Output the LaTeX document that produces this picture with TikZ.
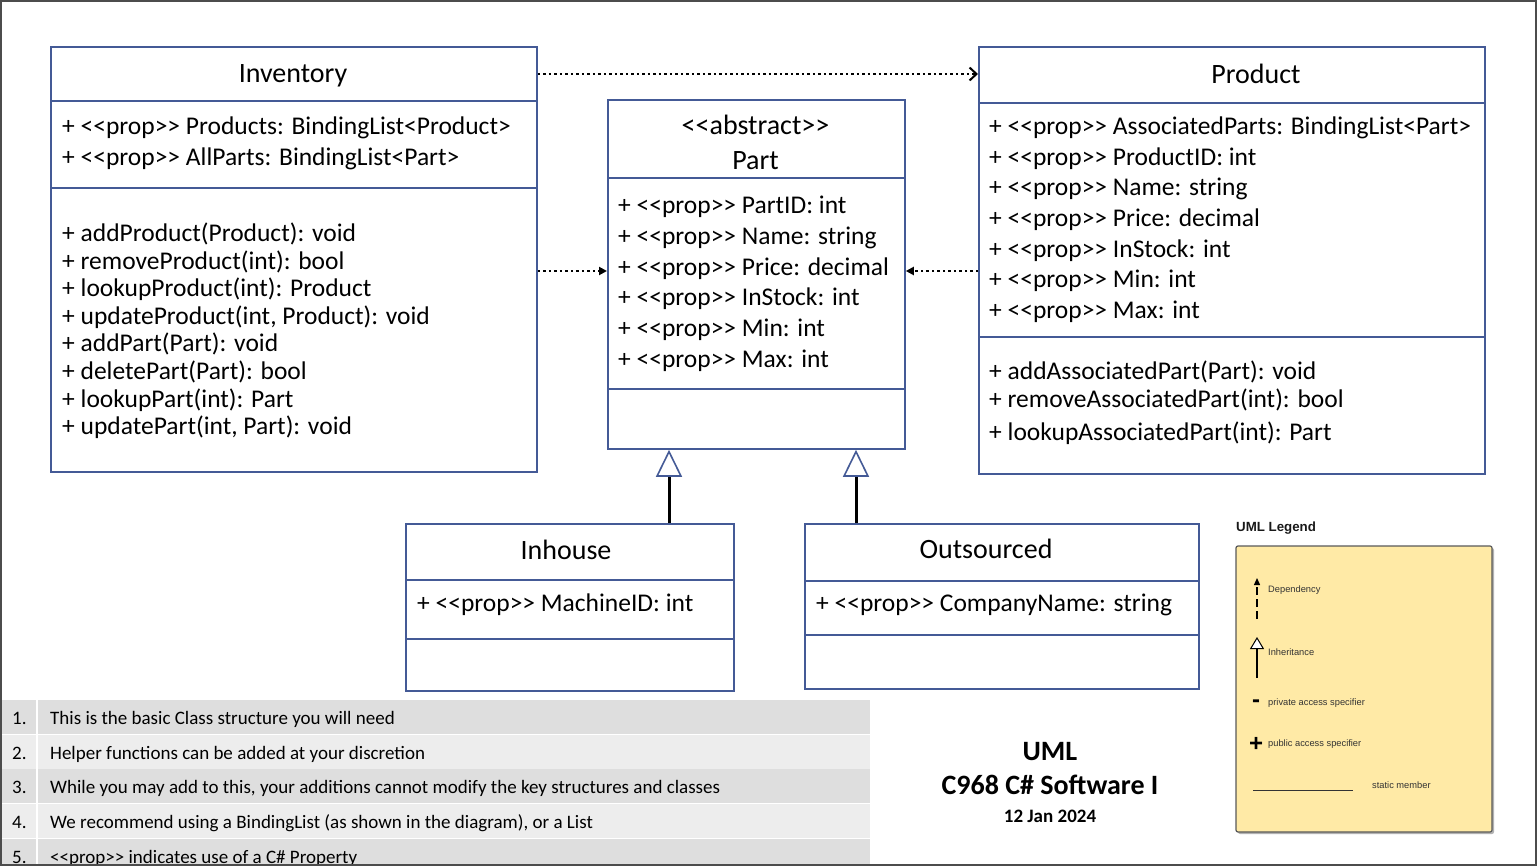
\documentclass[tikz,border=0pt]{standalone}
\usepackage{fontspec}
\setmainfont{Carlito}
\newfontfamily\legendfont{Liberation Sans}
\usetikzlibrary{arrows.meta}
\definecolor{clsblue}{RGB}{68,90,150}
\definecolor{legyellow}{RGB}{255,234,166}
\definecolor{rowdark}{RGB}{222,222,222}
\definecolor{rowlight}{RGB}{237,237,237}
\newcommand\ster[1]{<\kern0pt<#1>\kern0pt>}
\begin{document}
\begin{tikzpicture}[
    x={(1pt,0pt)},
    y={(0pt,-1pt)},
    >=Stealth,
    cls/.style={draw=clsblue, line width=1.8pt},
    clsbox/.style={cls, inner sep=0pt, anchor=north west},
    ttl/.style={font=\fontsize{28}{35}\selectfont, align=center, inner sep=0pt},
    mem/.style={font=\fontsize{25.5}{30}\selectfont, anchor=west, inner sep=0pt, text height=0.7em, text depth=0.2em, yshift=-6pt},
    dep/.style={line width=2.2pt, dash pattern=on 2.5pt off 3pt},
    inherit/.style={line width=3pt, -{Triangle[open, length=27pt, width=26pt, line width=1.6pt, color=clsblue, fill=white]}},
    note/.style={font=\fontsize{19}{22}\selectfont, anchor=west, inner sep=0pt, text height=0.7em, text depth=0.2em, yshift=-5pt},
    legtxt/.style={font=\legendfont\fontsize{9.3}{11}\selectfont, text=black!80, anchor=west, inner sep=0pt}]
    \useasboundingbox (0,0) rectangle (1537,866);

    % Notes table (bottom left)
    \foreach \c [count=\i] in {rowdark,rowlight,rowdark,rowlight,rowdark} {
        \fill[\c] (2,{700+34.7*(\i-1)}) rectangle (36,{734+34.7*(\i-1)});
        \fill[\c] (38,{700+34.7*(\i-1)}) rectangle (870,{734+34.7*(\i-1)});
        \node[note] (num\i) at (12,{717+34.7*(\i-1)}) {\i.};
    }
    \foreach \t [count=\i] in {This is the basic Class structure you will need,
        Helper functions can be added at your discretion,
        {While you may add to this, your additions cannot modify the key structures and classes},
        {We recommend using a BindingList (as shown in the diagram), or a List},
        \ster{prop} indicates use of a C\# Property}
        \node[note] (note\i) at (50,{717+34.7*(\i-1)}) {\t};

    % Inventory class
    \node[clsbox, minimum width=486pt, minimum height=425pt] (inv) at (50,46) {};
    \draw[cls] (50,101) -- (536,101);
    \draw[cls] (50,188) -- (536,188);
    \node[ttl] (invT) at (293,75.5) {Inventory};
    \node[mem] (invA1) at (62,126) {+ \ster{prop} Products: BindingList<Product>};
    \node[mem] (invA2) at (62,157) {+ \ster{prop} AllParts: BindingList<Part>};
    \foreach \m [count=\i] in {addProduct(Product): void, removeProduct(int): bool,
        lookupProduct(int): Product, {updateProduct(int, Product): void},
        addPart(Part): void, deletePart(Part): bool, lookupPart(int): Part,
        {updatePart(int, Part): void}}
        \node[mem] (invM\i) at (62,{233+27.6*(\i-1)}) {+ \m};

    % Part class (abstract)
    \node[clsbox, minimum width=297pt, minimum height=349pt] (part) at (607,99) {};
    \draw[cls] (607,178) -- (904,178);
    \draw[cls] (607,389) -- (904,389);
    \node[ttl] (partT) at (755.5,142.5) {\ster{abstract}\\Part};
    \foreach \a [count=\i] in {PartID: int, Name: string, Price: decimal,
        InStock: int, Min: int, Max: int}
        \node[mem] (partA\i) at (618,{205+30.8*(\i-1)}) {+ \ster{prop} \a};

    % Product class
    \node[clsbox, minimum width=506pt, minimum height=427pt] (prod) at (978,46) {};
    \draw[cls] (978,103) -- (1484,103);
    \draw[cls] (978,337) -- (1484,337);
    \node[ttl] (prodT) at (1256,74) {Product};
    \foreach \a [count=\i] in {AssociatedParts: BindingList<Part>, ProductID: int,
        Name: string, Price: decimal, InStock: int, Min: int, Max: int}
        \node[mem] (prodA\i) at (989,{126+30.7*(\i-1)}) {+ \ster{prop} \a};
    \foreach \m/\yy [count=\i] in {{addAssociatedPart(Part): void}/371,
        {removeAssociatedPart(int): bool}/399, {lookupAssociatedPart(int): Part}/432}
        \node[mem] (prodM\i) at (989,\yy) {+ \m};

    % Inhouse and Outsourced classes
    \node[clsbox, minimum width=328pt, minimum height=167pt] (inh) at (405,523) {};
    \draw[cls] (405,580) -- (733,580);
    \draw[cls] (405,639) -- (733,639);
    \node[ttl] (inhT) at (566,550) {Inhouse};
    \node[mem] (inhA1) at (417,603) {+ \ster{prop} MachineID: int};

    \node[clsbox, minimum width=394pt, minimum height=165pt] (outs) at (804,523) {};
    \draw[cls] (804,581) -- (1198,581);
    \draw[cls] (804,635) -- (1198,635);
    \node[ttl] (outT) at (986,549) {Outsourced};
    \node[mem] (outA1) at (816,603) {+ \ster{prop} CompanyName: string};

    % Dependencies (dotted)
    \coordinate (depRow) at (0,271);
    \draw[dep, -{Straight Barb[length=7pt, width=13pt, line width=2pt]}] (prodT -| inv.east) -- (prodT -| prod.west);
    \draw[dep, -{Triangle[length=8pt, width=8pt]}] (depRow -| inv.east) -- (depRow -| part.west);
    \draw[dep, -{Triangle[length=8pt, width=8pt]}] (depRow -| prod.west) -- (depRow -| part.east);

    % Inheritance
    \coordinate (inhUp) at (669,523);
    \coordinate (outUp) at (856,523);
    \draw[inherit] (inhUp) -- (inhUp |- part.south);
    \draw[inherit] (outUp) -- (outUp |- part.south);

    % Title
    \node[font=\bfseries\fontsize{28}{34}\selectfont, align=center] (title) at (1050,769) {UML\\C968 C\# Software I};
    \node[font=\bfseries\fontsize{19}{22}\selectfont] (date) at (1050,816) {12 Jan 2024};

    % Legend
    \node[legtxt, font=\legendfont\bfseries\fontsize{13.3}{16}\selectfont, text=black!90] (legT) at (1236,528) {UML Legend};
    \fill[black!30, rounded corners=2pt] (1238,548) rectangle (1494,834);
    \draw[black!65, fill=legyellow, rounded corners=2pt, line width=1.2pt] (1236,546) rectangle (1492,832);
    \coordinate (depLo) at (1257,619);
    \coordinate (depHi) at (1257,578);
    \draw[line width=1.2pt, dash pattern=on 8pt off 4pt, -{Triangle[length=7pt, width=6pt]}] (depLo) -- (depHi);
    \coordinate (inhLo) at (1257,678);
    \coordinate (inhHi) at (1257,637);
    \draw[line width=1.2pt, -{Triangle[open, length=12pt, width=14pt, fill=white, line width=1pt]}] (inhLo) -- (inhHi);
    \node[font=\legendfont\bfseries\fontsize{24}{24}\selectfont, inner sep=0pt] (legMinus) at (1256,704) {-};
    \node[font=\legendfont\bfseries\fontsize{24}{24}\selectfont, inner sep=0pt] (legPlus) at (1256,744) {+};
    \draw[line width=1pt, black!80] (1253,790) -- (1353,790);
    \node[legtxt] (legDep) at (1268,590) {Dependency};
    \node[legtxt] (legInh) at (1268,652) {Inheritance};
    \node[legtxt] (legPriv) at (1268,703) {private access specifier};
    \node[legtxt] (legPub) at (1268,744) {public access specifier};
    \node[legtxt] (legStat) at (1372,785) {static member};

    % Frame
    \draw[black!70, line width=2pt] (1,1) rectangle (1536,865);
\end{tikzpicture}
\end{document}
